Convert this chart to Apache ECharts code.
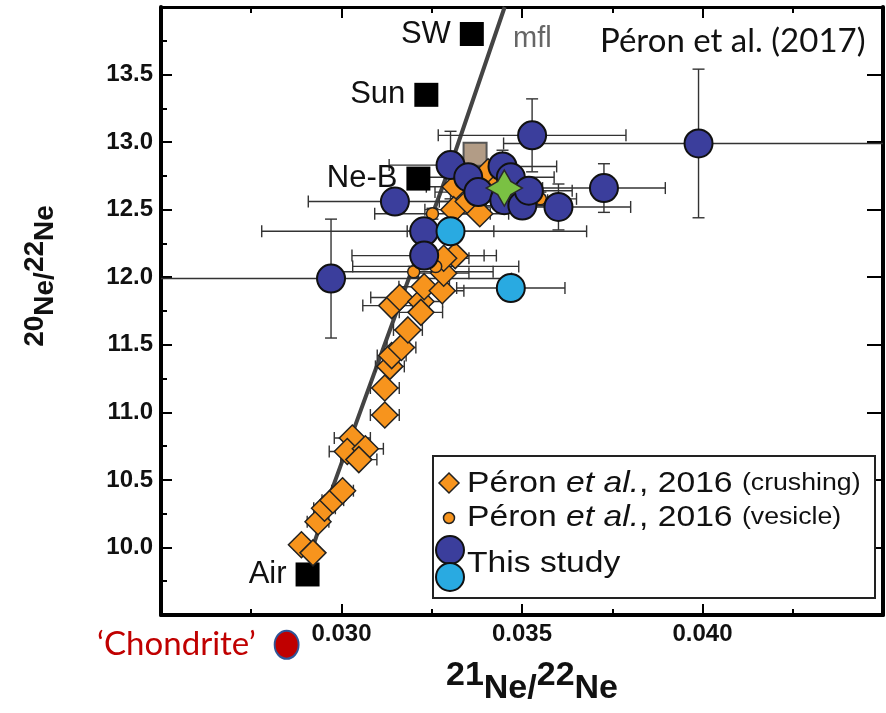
<!DOCTYPE html>
<html lang="en">
<head>
  <meta charset="UTF-8">
  <title>Ne isotopes - Péron et al. (2017)</title>
  <script src="https://cdn.jsdelivr.net/npm/echarts@6/dist/echarts.min.js"></script>
  <style>
    html, body { margin: 0; padding: 0; background: #fff; }
    #chart { width: 886px; height: 713px; }
  </style>
</head>
<body>
  <div id="chart"></div>
  <script>
    // ---- values ----
    // tick labels
    const xTickLabels = ['0.030', '0.035', '0.040'];
    const yTickLabels = ['10.0', '10.5', '11.0', '11.5', '12.0', '12.5', '13.0', '13.5'];

    // Péron et al., 2016 (crushing) - diamonds
    const crushX = [0.02889, 0.02921, 0.02935, 0.02953, 0.02976, 0.03003, 0.03030, 0.03016, 0.03066, 0.03048,
                    0.03120, 0.03120, 0.03134, 0.03139, 0.03166, 0.03184, 0.03139, 0.03161, 0.03220, 0.03220,
                    0.03229, 0.03279, 0.03283, 0.03315, 0.03283, 0.03315, 0.03311, 0.03351, 0.03383, 0.03406, 0.03429];
    const crushY = [10.02, 9.96, 10.19, 10.29, 10.35, 10.42, 10.81, 10.71, 10.73, 10.65,
                    10.98, 11.18, 11.34, 11.42, 11.48, 11.61, 11.79, 11.85, 11.82, 11.74,
                    11.93, 11.90, 12.03, 12.16, 12.14, 12.67, 12.50, 12.56, 12.47, 12.78, 12.67];
    const crushXErr = [0.0002, 0.0002, 0.0003, 0.0003, 0.0003, 0.0003, 0.0005, 0.0005, 0.0005, 0.0005,
                       0.0004, 0.0004, 0.0004, 0.0004, 0.0004, 0.0004, 0.0008, 0.0008, 0.0006, 0.0006,
                       0.0007, 0.0006, 0.0007, 0.0008, 0.0007, 0.0008, 0.0008, 0.0008, 0.0008, 0.0008, 0.0008];
    const crushYErr = [0.03, 0.03, 0.03, 0.03, 0.03, 0.03, 0.04, 0.04, 0.04, 0.04,
                       0.04, 0.04, 0.04, 0.04, 0.04, 0.04, 0.05, 0.05, 0.05, 0.05,
                       0.05, 0.05, 0.05, 0.05, 0.05, 0.05, 0.05, 0.05, 0.05, 0.05, 0.05];

    // Péron et al., 2016 (vesicle) - small circles
    const vesX = [0.03200, 0.03261, 0.03252, 0.03551];
    const vesY = [12.04, 12.08, 12.47, 12.58];
    const vesXErr = [0.0022, 0.0023, 0.0016, 0.0010];
    const vesYErr = [0.04, 0.04, 0.04, 0.05];

    // This study - dark blue
    const studyX = [0.02971, 0.03148, 0.03229, 0.03229, 0.03302, 0.03351, 0.03446, 0.03469,
                    0.03379, 0.03451, 0.03501, 0.03519, 0.03528, 0.03601, 0.03727, 0.03989];
    const studyY = [11.99, 12.56, 12.34, 12.16, 12.83, 12.74, 12.82, 12.74,
                    12.63, 12.57, 12.53, 12.64, 13.05, 12.52, 12.66, 12.99];
    const studyXErr = [0.0050, 0.0024, 0.0045, 0.0020, 0.0017, 0.0012, 0.0015, 0.0012,
                       0.0012, 0.0012, 0.0012, 0.0012, 0.0026, 0.0020, 0.0017, 0.0054];
    const studyYErr = [0.44, 0.09, 0.05, 0.05, 0.25, 0.10, 0.12, 0.10,
                       0.10, 0.08, 0.08, 0.08, 0.27, 0.17, 0.18, 0.55];

    // This study - light blue
    const lightX = [0.03302, 0.03469];
    const lightY = [12.34, 11.92];
    const lightXErr = [0.0012, 0.0015];
    const lightYErr = [0.05, 0.09];

    // green star
    const starX = [0.03451];
    const starY = [12.66];

    // reference end-members
    const refNames = ['SW', 'Sun', 'Ne-B', 'Air'];
    const refX = [0.03361, 0.03235, 0.03213, 0.02906];
    const refY = [13.80, 13.35, 12.73, 9.80];
    const tanX = [0.03370];
    const tanY = [12.91];

    // chondrite
    const chondX = [0.02848];
    const chondY = [9.28];

    // mass fractionation line (mfl)
    const mflX = [0.02916, 0.02976, 0.03147, 0.03310, 0.03452];
    const mflY = [9.965, 10.446, 11.704, 12.888, 14.0];

    // ---- helpers ----
    const pairs = (xs, ys) => xs.map((x, i) => [x, ys[i]]);
    const quads = (xs, ys, exs, eys) => xs.map((x, i) => [x, ys[i], exs[i], eys[i]]);

    function errorBarItem(params, api) {
      const x = api.value(0), y = api.value(1), ex = api.value(2), ey = api.value(3);
      const c = api.coord([x, y]);
      const l = api.coord([x - ex, y]);
      const r = api.coord([x + ex, y]);
      const t = api.coord([x, y + ey]);
      const b = api.coord([x, y - ey]);
      const cap = 6;
      const style = { stroke: '#333', lineWidth: 1.4 };
      const kids = [];
      if (ex > 0) {
        kids.push({ type: 'line', shape: { x1: l[0], y1: c[1], x2: r[0], y2: c[1] }, style });
        kids.push({ type: 'line', shape: { x1: l[0], y1: c[1] - cap, x2: l[0], y2: c[1] + cap }, style });
        kids.push({ type: 'line', shape: { x1: r[0], y1: c[1] - cap, x2: r[0], y2: c[1] + cap }, style });
      }
      if (ey > 0) {
        kids.push({ type: 'line', shape: { x1: c[0], y1: t[1], x2: c[0], y2: b[1] }, style });
        kids.push({ type: 'line', shape: { x1: c[0] - cap, y1: t[1], x2: c[0] + cap, y2: t[1] }, style });
        kids.push({ type: 'line', shape: { x1: c[0] - cap, y1: b[1], x2: c[0] + cap, y2: b[1] }, style });
      }
      return { type: 'group', children: kids };
    }

    const errorData = []
      .concat(quads(crushX, crushY, crushXErr, crushYErr))
      .concat(quads(vesX, vesY, vesXErr, vesYErr))
      .concat(quads(studyX, studyY, studyXErr, studyYErr))
      .concat(quads(lightX, lightY, lightXErr, lightYErr));

    const tickFont = { fontFamily: 'Liberation Sans', fontWeight: 'bold', fontSize: 24, color: '#111' };
    const ORANGE = '#f7941d', DARKBLUE = '#3b3e9c', LIGHTBLUE = '#29aae1';

    function baseAxis(min, max, interval) {
      return {
        type: 'value', min: min, max: max, interval: interval,
        axisLine: { onZero: false, lineStyle: { color: '#000', width: 4 } },
        axisTick: { inside: true, length: 11, lineStyle: { color: '#000', width: 2 } },
        minorTick: { show: true, splitNumber: 2, length: 6, lineStyle: { color: '#000', width: 2 } },
        splitLine: { show: false },
        minorSplitLine: { show: false }
      };
    }

    const xBottom = Object.assign(baseAxis(0.025, 0.045, 0.005), {
      position: 'bottom',
      axisLabel: Object.assign({ margin: 7, formatter: v => {
        const s = v.toFixed(3);
        return xTickLabels.includes(s) ? s : '';
      } }, tickFont)
    });
    const xTop = Object.assign(baseAxis(0.025, 0.045, 0.005), {
      position: 'top', axisLabel: { show: false }
    });
    xTop.axisLine.lineStyle.width = 3;
    const yLeft = Object.assign(baseAxis(9.5, 14.0, 0.5), {
      position: 'left',
      axisLabel: Object.assign({ margin: 8, formatter: v => {
        const s = v.toFixed(1);
        return yTickLabels.includes(s) ? s : '';
      } }, tickFont)
    });
    const yRight = Object.assign(baseAxis(9.5, 14.0, 0.5), {
      position: 'right', axisLabel: { show: false }
    });
    yRight.axisTick.length = 16;
    yRight.minorTick.show = false;

    const legendRich = {
      n: { fontFamily: 'Liberation Sans', fontSize: 29 },
      i: { fontFamily: 'Liberation Sans', fontSize: 29, fontStyle: 'italic' },
      s: { fontFamily: 'Liberation Sans', fontSize: 23 }
    };

    const chart = echarts.init(document.getElementById('chart'));
    const option = {
      backgroundColor: '#fff',
      animation: false,
      grid: { left: 161, right: -10, top: 7, bottom: 98 },
      xAxis: [xBottom, xTop],
      yAxis: [yLeft, yRight],
      series: [
        {
          name: 'mfl', type: 'line', data: pairs(mflX, mflY), showSymbol: false, symbol: 'none',
          lineStyle: { color: '#444', width: 4 }, z: 1, silent: true
        },
        {
          name: 'errors', type: 'custom', renderItem: errorBarItem, data: errorData,
          encode: { x: 0, y: 1 }, clip: true, z: 2, silent: true
        },
        {
          name: 'reference', type: 'scatter', symbol: 'rect', symbolSize: 24, z: 3,
          data: refX.map((x, i) => ({ name: refNames[i], value: [x, refY[i]] })),
          itemStyle: { color: '#000', opacity: 1 },
          label: { show: true, position: 'left', distance: 9, formatter: '{b}',
                   fontFamily: 'Liberation Sans', fontSize: 31, color: '#111' }
        },
        {
          name: 'tan', type: 'scatter', symbol: 'rect', symbolSize: 23, z: 3,
          data: pairs(tanX, tanY),
          itemStyle: { color: '#b29c86', borderColor: '#555', borderWidth: 2, opacity: 1 }
        },
        {
          name: 'Péron et al., 2016 (crushing)', type: 'scatter', symbol: 'diamond', symbolSize: 26, z: 4,
          data: pairs(crushX, crushY),
          itemStyle: { color: ORANGE, borderColor: '#222', borderWidth: 1.5, opacity: 1 }
        },
        {
          name: 'Péron et al., 2016 (vesicle)', type: 'scatter', symbol: 'circle', symbolSize: 12, z: 5,
          data: pairs(vesX, vesY),
          itemStyle: { color: ORANGE, borderColor: '#222', borderWidth: 1.5, opacity: 1 }
        },
        {
          name: 'This study', type: 'scatter', symbol: 'circle', symbolSize: 28, z: 6,
          data: pairs(studyX, studyY),
          itemStyle: { color: DARKBLUE, borderColor: '#111', borderWidth: 2, opacity: 1 }
        },
        {
          name: 'This study (light)', type: 'scatter', symbol: 'circle', symbolSize: 28, z: 7,
          data: pairs(lightX, lightY),
          itemStyle: { color: LIGHTBLUE, borderColor: '#111', borderWidth: 2, opacity: 1 }
        },
        {
          name: 'star', type: 'scatter', z: 8,
          symbol: 'path://M0,-15 L5.5,-5.5 L15,0 L5.5,5.5 L0,15 L-5.5,5.5 L-15,0 L-5.5,-5.5 Z', symbolSize: 36,
          data: pairs(starX, starY),
          itemStyle: { color: '#7ac143', borderColor: '#2a2a2a', borderWidth: 1.5, opacity: 1 }
        },
        {
          name: 'Chondrite', type: 'scatter', clip: false, symbol: 'circle', symbolSize: [24, 28], z: 8,
          data: pairs(chondX, chondY),
          itemStyle: { color: '#c00000', borderColor: '#2f5597', borderWidth: 2, opacity: 1 },
          label: { show: true, position: 'left', distance: 18, formatter: '\u2018Chondrite\u2019',
                   fontFamily: 'Lato', fontSize: 33, color: '#c00000' }
        }
      ],
      graphic: [
        // axis titles
        {
          type: 'text', x: 532, y: 689, z: 100,
          style: {
            text: '{s|21}{b|Ne/}{s|22}{b|Ne}', align: 'center', verticalAlign: 'middle', fill: '#111',
            rich: {
              s: { fontFamily: 'Liberation Sans', fontWeight: 'bold', fontSize: 34, padding: [0, 0, 26, 0] },
              b: { fontFamily: 'Liberation Sans', fontWeight: 'bold', fontSize: 34 }
            }
          }
        },
        {
          type: 'text', x: 45, y: 276, rotation: Math.PI / 2, z: 100,
          style: {
            text: '{s|20}{b|Ne/}{s|22}{b|Ne}', align: 'center', verticalAlign: 'middle', fill: '#111',
            rich: {
              s: { fontFamily: 'Liberation Sans', fontWeight: 'bold', fontSize: 28, padding: [0, 0, 20, 0] },
              b: { fontFamily: 'Liberation Sans', fontWeight: 'bold', fontSize: 28 }
            }
          }
        },
        // annotations
        {
          type: 'text', x: 600, y: 41, z: 100,
          style: { text: 'Péron et al. (2017)', fontFamily: 'Lato', fontSize: 33, fill: '#111',
                   align: 'left', verticalAlign: 'middle' }
        },
        {
          type: 'text', x: 513, y: 39, z: 100,
          style: { text: 'mfl', fontFamily: 'Liberation Sans', fontSize: 29, fill: '#666',
                   align: 'left', verticalAlign: 'middle' }
        },
        // legend box
        {
          type: 'rect', z: 100, shape: { x: 433, y: 456, width: 442, height: 142 },
          style: { fill: '#fff', stroke: '#222', lineWidth: 2 }
        },
        {
          type: 'polygon', z: 101, shape: { points: [[449, 473], [459, 483], [449, 493], [439, 483]] },
          style: { fill: ORANGE, stroke: '#222', lineWidth: 1.5 }
        },
        {
          type: 'circle', z: 101, shape: { cx: 449, cy: 518, r: 5.5 },
          style: { fill: ORANGE, stroke: '#222', lineWidth: 1.5 }
        },
        {
          type: 'circle', z: 101, shape: { cx: 450, cy: 550, r: 14 },
          style: { fill: DARKBLUE, stroke: '#111', lineWidth: 2 }
        },
        {
          type: 'circle', z: 102, shape: { cx: 450, cy: 577, r: 14 },
          style: { fill: LIGHTBLUE, stroke: '#111', lineWidth: 2 }
        },
        {
          type: 'text', x: 467, y: 484, scaleX: 1.16, z: 101,
          style: {
            text: '{n|Péron }{i|et al.}{n|, 2016 }{s|(crushing)}', fill: '#111',
            align: 'left', verticalAlign: 'middle', rich: legendRich
          }
        },
        {
          type: 'text', x: 467, y: 518, scaleX: 1.16, z: 101,
          style: {
            text: '{n|Péron }{i|et al.}{n|, 2016 }{s|(vesicle)}', fill: '#111',
            align: 'left', verticalAlign: 'middle', rich: legendRich
          }
        },
        {
          type: 'text', x: 467, y: 564, scaleX: 1.16, z: 101,
          style: { text: 'This study', fontFamily: 'Liberation Sans', fontSize: 29, fill: '#111',
                   align: 'left', verticalAlign: 'middle' }
        }
      ]
    };
    chart.setOption(option);
  </script>
</body>
</html>
